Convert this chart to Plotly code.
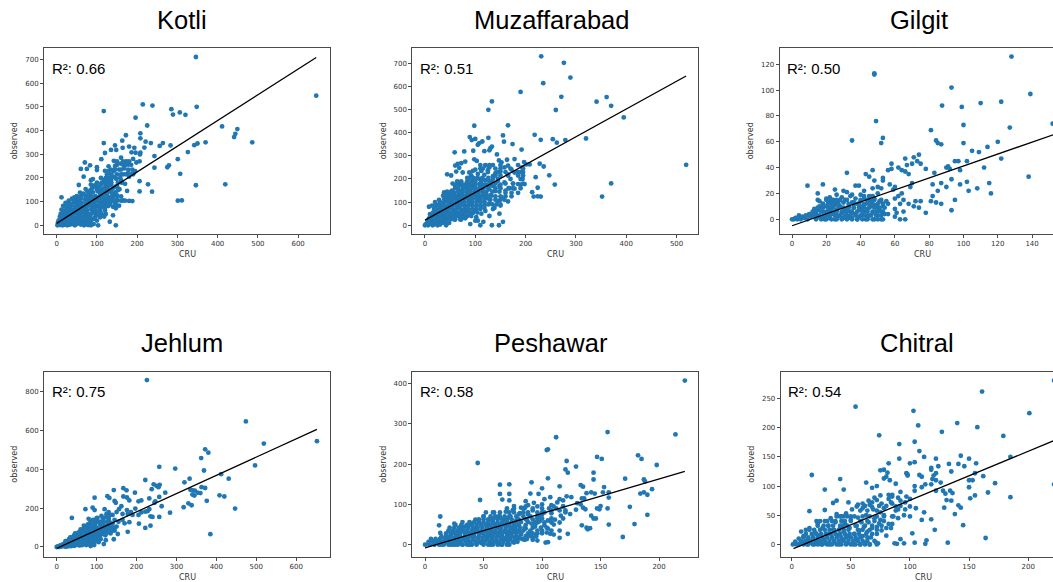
import plotly.graph_objects as go

W, H = 1053, 582
BLUE = "#1f77b4"

TITLES = ["Kotli", "Muzaffarabad", "Gilgit", "Jehlum", "Peshawar", "Chitral"]
R2 = ["0.66", "0.51", "0.50", "0.75", "0.58", "0.54"]

KOTLI = [(346,710),(645,547),(348,500),(117,482),(214,510),(238,505),(285,490),(289,467),(306,476),(320,466),(196,454),(225,421),(411,417),(449,406),(444,386),(441,372),(486,350),(370,350),(350,345),(342,338),(208,388),(172,380),(208,367),(163,357),(117,347),(221,353),(234,347),(264,347),(256,335),(283,337),(145,337),(135,318),(148,318),(180,332),(193,327),(164,327),(218,328),(120,305),(186,308),(196,306),(208,307),(207,299),(243,292),(326,309),(301,279),(111,279),(70,265),(142,272),(160,285),(190,280),(198,265),(206,270),(173,270),(178,256),(83,253),(100,245),(60,238),(75,238),(100,233),(129,249),(120,230),(130,230),(275,245),(279,253),(243,243),(307,217),(206,186),(227,173),(237,142),(206,143),(346,169),(419,173),(301,104),(311,105),(180,103),(188,102),(170,175),(175,145),(67,205),(55,170),(90,195),(85,190),(12,118),(147,0),(103,0),(132,15),(140,42),(147,72),(155,83),(165,105),(150,110),(140,120),(130,110),(195,228),(188,218),(178,222),(180,205),(160,260),(150,262),(145,250),(168,240),(155,235),(142,228),(165,215),(150,215),(140,205),(128,198),(118,192),(125,182),(135,190),(148,196),(112,178),(98,170),(122,165),(135,172),(150,165),(160,190),
(2,0),(6,2),(10,1),(15,0),(20,3),(26,0),(32,2),(45,0),(60,3),(68,0),(78,1),(85,0),(3,10),(8,12),(14,8),(20,11),(28,9),(36,13),(44,8),(52,12),(62,9),(72,14),(84,11),(5,21),(10,19),(16,23),(24,18),(32,22),(40,20),(48,24),(56,18),(66,22),(76,19),(88,24),(100,20),(8,36),(14,33),(22,37),(30,34),(38,36),(46,32),(54,38),(64,34),(74,37),(84,33),(96,36),(108,34),(118,37),(10,48),(18,52),(26,49),(34,53),(42,47),(50,51),(58,48),(68,53),(78,49),(88,52),(98,47),(110,51),(122,48),(12,66),(20,63),(30,67),(38,64),(46,68),(56,62),(66,66),(76,63),(86,68),(96,64),(108,67),(120,63),(16,82),(26,78),(36,83),(46,79),(56,82),(66,78),(78,83),(88,79),(100,82),(112,78),(128,81),(140,78),(22,95),(32,92),(42,97),(52,93),(62,96),(72,92),(84,97),(94,93),(106,96),(118,92),(134,97),(146,93),(38,112),(50,108),(60,113),(70,109),(82,112),(94,108),(106,113),(120,109),(136,112),(150,126),(50,123),(62,127),(72,124),(84,128),(96,123),(110,127),(126,124),(142,128),(160,122),(58,138),(76,142),(90,139),(102,143),(118,138),(130,142),(146,139),(72,153),(88,157),(100,152),(116,156),(128,153),(140,157),(156,152),(85,172),(95,168),(110,173),(122,168),(134,171),
]
KOTLI_ROWS = [(5,[10,24,38,50,66,80,92]),(28,[12,20,30,44,58,70,82,94]),(44,[14,24,38,54,70,84,104,116]),(58,[18,28,44,60,72,92,102]),(74,[24,34,50,62,74,94,106,120]),(88,[30,48,60,80,92,108,124,132,145]),(104,[30,44,56,78,90,100,114,125,135,142,150,160,170]),(118,[44,56,78,90,102,116,134]),(133,[66,80,108,122,138]),(148,[84,110,124,136,152]),(163,[92,106,128,146]),(180,[100,112,122,136,152,162]),(200,[110,122,134,146,158]),(215,[125,135,160,172,190]),(235,[135,145,160,178,188]),(255,[150,165,172,185]),(270,[150,165,180])]

MUZAFFARABAD = [(231,730),(276,702),(289,638),(235,614),(190,576),(271,555),(133,535),(126,499),(260,498),(341,534),(361,554),(370,516),(395,466),(519,261),(98,430),(165,432),(89,381),(93,368),(100,373),(126,378),(155,388),(218,391),(230,369),(254,372),(262,357),(279,368),(320,375),(114,362),(108,355),(105,348),(157,361),(174,351),(133,340),(130,333),(128,324),(192,327),(118,320),(59,315),(78,319),(96,322),(143,306),(98,285),(103,278),(147,280),(152,272),(163,283),(178,286),(197,273),(201,263),(208,263),(228,266),(236,254),(247,216),(220,208),(258,176),(370,181),(352,124),(224,162),(213,143),(216,124),(224,125),(230,124),(194,200),(198,178),(190,175),(185,178),(175,180),(168,160),(178,158),(160,150),(152,120),(165,103),(145,105),(150,85),(155,15),(147,0),(133,0),(148,50),(138,75),(128,95),(116,15),(110,0),(105,20),(90,5),(70,25),(60,25),(42,0),(80,30),(90,50),(112,50),(118,75),
(65,265),(60,258),(72,268),(80,275),(68,248),(44,220),(52,215),(62,232),(75,228),(88,228),(95,235),(100,240),(112,235),(120,258),(128,250),(135,260),(110,260),(115,245),(125,238),(140,225),(150,232),(158,250),(165,258),(172,240),(190,230),(193,250),(178,228),(165,220),(150,215),(135,212),(118,218),(105,222),(92,215),(84,205),(72,190),(66,182),(55,180),(60,170),(70,172),(82,178),(95,190),(108,200),(120,195),(132,190),(145,192),(158,185),(148,170),(135,170),(122,175),(108,178),(94,172),(80,165),(66,158),(54,150),(38,142),(46,135),(58,140),(72,148),(86,152),(100,158),(114,160),(128,155),(140,148),(115,140),(100,140),(86,136),(72,132),(60,125),(48,120),(36,128),(28,110),(20,100),(30,95),(42,105),(54,108),(66,112),(78,118),(92,122),(106,125),(120,120),(132,128),(118,100),(104,105),(90,102),(76,98),(64,92),(50,90),(36,85),(24,88),(14,85),(8,80),(18,70),(30,72),(42,75),(54,76),(66,80),(80,84),(94,86),(110,85),(100,68),(86,66),(72,62),(58,60),(44,58),(30,55),(18,52),(10,48),(22,38),(34,42),(48,44),(62,46),(76,48),(8,30),(16,25),(28,22),(40,30),(52,32),(2,5),(6,0),(12,8),(18,4),(24,10),(30,3),(36,12),(5,18),(12,20),(0,0),(15,0),(25,0),(120,62),(128,40),(135,70),(102,35),(100,20),(95,55),(84,40),(75,35),(65,40),
]
MUZAFFARABAD_ROWS = [(10,[8,16,24,32,40,48]),(25,[10,18,26,34,42,50,58,72]),(40,[14,22,30,38,46,54,62,70,78,92]),(55,[16,24,32,40,48,56,64,72,80,88,96,104]),(70,[22,30,38,46,54,62,70,78,86,94,102,110]),(85,[22,30,38,46,54,62,70,78,86,94,102,110,118]),(90,[126,134,142,150]),(100,[30,38,46,54,62,70,78,86,94,102,110,118]),(110,[130,140,150,158]),(115,[38,46,54,62,70,78,86,94,102,110,118,126]),(125,[140,150,160,172]),(130,[42,50,58,66,74,82,90,98,106,114,122,130]),(140,[160,172,185]),(145,[44,52,66,74,82,90,98,106,114,122,134,148]),(160,[60,76,84,92,100,108,116,126,140,150,166,175,190]),(175,[62,76,88,100,112,118,130,150]),(180,[140,160,175,195]),(190,[64,84,92,100,112,128]),(200,[135,145,170,190]),(205,[88,96,104,114,126]),(215,[140,165,185,195]),(230,[125,145,160,185,195]),(245,[110,140,150,170,195]),(260,[120,128,150,185])]

GILGIT = [(128,126),(48,113),(48,112),(93,102),(139,97),(49,76),(87.5,88),(99,87),(110,90),(122,91),(100,73),(81,69),(127,71),(152,74),(35,61),(53,63),(52,59),(84,61),(85,59),(87,58),(100,59),(120,60),(114,56),(105,53),(109,52),(122,47),(74,50),(66,47),(71,48),(73,45),(75,43),(70,43),(67,42),(58,43),(62,40),(78,39),(90,40),(91,41),(92,39),(95,45),(97,45),(102,45),(112,40),(98,38),(56,38),(58,39),(64,38),(66,37),(68,35),(47,38),(43,35),(32,36),(45,33),(48,30),(53,32),(53,30),(83,36),(70,28),(69,25),(82,27),(93,31),(87,28),(98,27),(102,29),(90,25),(85,22),(103,22),(108,24),(115,28),(116,20),(82,18),(95,15),(75,14),(72,14),(81,14),(84,13),(87,12),(78,5),(93,7),(138,33),(9,26),(18,27),(15,20),(25,23),(26,19),(30,22),(32,21),(37,26),(39,26),(35,19),(42,22),(47,24),(50,25),(52,24),(57,27),(60,25),(59,23),(64,20),(62,18),(60,16),(65,15),(63,12),(68,12),(71,10),(74,9),(65,6),(60,8),(56,12),(55,14),(53,10),(52,6),(50,9),(56,4),(60,2),(63,0),(66,0),(61,5),
(0,0),(1,0),(2,1),(3,0),(4,3),(4,1),(5,0),(6,2),(7,1),(8,3),(9,0),(10,4),(11,2),(12,6),(13,8),(14,4),(15,7),(15,15),(16,14),(16,2),(17,9),(18,6),(18,12),(19,0),(20,3),(20,10),(21,14),(21,6),(22,17),(22,1),(23,12),(23,8),(24,4),(24,15),(25,11),(25,0),(26,7),(27,14),(27,2),(28,10),(29,5),(29,17),(30,13),(30,1),(31,8),(32,15),(32,3),(33,10),(34,6),(34,18),(35,13),(35,1),(36,9),(37,16),(37,4),(38,12),(38,0),(39,7),(40,19),(40,14),(41,3),(41,10),(42,16),(42,6),(43,0),(43,12),(44,8),(45,18),(45,3),(46,14),(46,10),(47,5),(48,0),(48,16),(49,11),(50,20),(50,3),(51,14),(51,7),(52,0),(53,12),(54,4),
(20,16),(24,5),(26,13),(28,15),(33,1),(36,13),(39,2),(44,1),(44,15),(47,12),(49,6),(22,9),(30,6),(28,3),(35,5),(40,8),(16,10),(12,3),(14,1),(18,2),(26,3),
]
GILGIT_ROWS = [(0,[14,17,20,23,26,29,32,35,38,41,44,47,50,53]),(3,[10,13,16,19,22,25,28,31,34,37,40,43,46,49,52]),(6,[14,17,20,23,26,29,32,35,38,41,44,47,50,53]),(9,[15,18,21,24,27,30,33,36,39,42,45,48,51,54]),(12,[18,21,24,27,33,36,39,42,45,50,53]),(15,[20,23,26,31,40,44,48,52]),(18,[42,47])]

JEHLUM = [(226,860),(474,647),(652,545),(519,533),(497,420),(372,503),(380,486),(362,458),(257,413),(297,404),(369,394),(412,375),(431,352),(333,352),(320,333),(222,345),(243,323),(250,315),(258,320),(255,308),(238,298),(272,280),(335,295),(340,292),(346,290),(353,280),(360,278),(363,308),(372,304),(345,265),(340,270),(408,266),(420,260),(376,238),(330,225),(338,215),(318,205),(447,198),(385,66),(284,177),(263,210),(257,155),(240,155),(235,158),(235,110),(222,98),(206,120),(178,78),(143,40),(153,67),(167,303),(175,292),(143,293),(95,254),(127,262),(132,253),(196,280),(167,260),(176,255),(182,240),(145,237),(148,228),(205,235),(212,240),(232,250),(247,235),(257,258),(245,228),(228,185),(222,182),(232,195),(212,178),(197,198),(205,165),(190,165),(176,190),(162,210),(156,195),(150,180),(165,170),(178,170),(186,180),(72,195),(90,203),(95,190),(38,150),(80,145),(68,110),(120,195),(130,180),(135,165),(125,170),(112,160),(118,150),(130,145),(145,140),(155,130),(165,140),(170,122),(182,128),(140,120),(130,120),(120,110),(105,130),(95,125),(85,115),(75,100),(88,95),(100,100),(110,90),(125,85),(140,85),(150,105),(135,70),(122,60),(118,15),(110,40),(105,60),(95,30),(85,5),(90,18),(72,15),(58,8),
(0,0),(3,3),(6,0),(9,8),(12,2),(15,14),(18,5),(21,20),(24,8),(27,28),(30,12),(33,36),(36,4),(39,18),(42,44),(45,6),(48,26),(51,55),(54,12),(57,36),(60,60),(63,20),(66,44),(69,72),(72,28),(75,52),(78,80),(81,36),(84,60),(87,12),(90,42),(93,70),(96,90),(99,50),(102,76),(105,25),(108,56),(111,84),(114,105),(117,66),(120,90),(123,35),(126,74),(129,100),(132,130),(135,105),(138,90),(70,58),(64,48),(56,48),(50,40),(44,32),(38,30),(32,22),(26,18),(20,12),(15,6),(25,30),(31,40),(37,50),(43,58),(49,68),(55,75),(61,85),(67,92),(73,105),(79,118),(85,130),(91,140),(102,150),(108,120),(96,112),(82,98),(76,68),(68,36),(60,30),(52,22),(46,15),(40,8),(34,14),(28,3),(22,1),(75,15),(80,28),(88,32),(95,60),(100,35),(112,70),(124,108),(118,130),(128,158),
]
JEHLUM_ROWS = [(10,[14,24,34,44,54,64,74,84,94]),(30,[22,34,44,54,64,74,86,100]),(50,[34,42,52,62,72,84,94,108]),(70,[46,56,66,78,88,100,116,120]),(85,[125,135,145]),(90,[60,70,84,104,118,130]),(100,[135,145]),(110,[76,88,110,126]),(130,[100,112,128]),(148,[100,116,130]),(165,[125,140])]

PESHAWAR = [(222,408),(214,274),(156,280),(112,267),(104,235),(105,237),(45,203),(182,222),(185,213),(147,218),(151,213),(198,198),(121,208),(120,187),(122,179),(129,194),(144,179),(144,162),(105,165),(91,155),(171,164),(187,162),(188,157),(194,138),(187,130),(184,127),(190,124),(157,130),(157,117),(153,143),(152,130),(145,127),(142,130),(138,128),(133,148),(135,144),(136,115),(134,115),(129,87),(125,118),(121,120),(118,110),(115,113),(113,105),(115,145),(100,140),(97,126),(90,127),(72,150),(64,149),(64,126),(72,126),(66,112),(72,110),(47,111),(86,108),(76,96),(107,118),(102,113),(93,104),(88,98),(82,92),(100,100),(108,98),(112,90),(118,95),(120,80),(124,76),(116,72),(130,103),(133,100),(135,92),(137,88),(142,72),(144,65),(146,65),(147,90),(149,88),(150,96),(156,90),(175,94),(190,74),(179,51),(169,19),(157,50),(134,48),(138,42),(139,38),(141,41),(110,50),(122,27),(115,17),(105,40),(107,27),(104,30),(100,28),(103,5),(105,6),(92,12),(96,10),(88,25),(80,15),(13,70),(12,48),(13,29),(25,52),
(0,0),(3,2),(6,10),(8,1),(10,6),(13,14),(15,2),(18,8),(20,18),(22,0),(24,30),(25,12),(27,5),(28,22),(30,42),(32,0),(33,15),(35,30),(37,50),(38,6),(40,22),(41,38),(43,62),(44,2),(45,14),(47,28),(48,50),(50,70),(50,8),(52,20),(53,40),(55,62),(56,0),(57,14),(58,30),(59,80),(60,50),(61,8),(62,22),(63,70),(64,40),(65,0),(66,15),(67,60),(68,32),(69,82),(70,50),(71,10),(72,24),(73,70),(74,42),(75,86),(76,5),(77,18),(78,60),(79,34),(80,48),(81,78),(82,25),(84,90),(85,12),(86,40),(87,62),(88,76),(90,30),(91,52),(92,85),(94,45),(95,20),(97,70),(98,58),(100,80),(102,48),(105,60),(108,78),(111,62),(28,35),(34,45),(42,28),(46,56),(54,48),(60,30),(68,12),(74,30),(16,5),(30,5),(36,18),(48,4),(55,24),(65,28),(14,0),(20,8),(26,0),(38,0),(58,2),(72,0),(40,52),(44,42),(22,25),(18,20),(12,8),
]
PESHAWAR_ROWS = [(0,[4,8,12,16,20,24,28,32,36,40,44,50,54,58,62,66,70]),(7,[3,7,11,15,19,23,27,31,35,39,43,47,51,55,59,63,67,71,75,79]),(14,[5,9,13,17,21,25,29,33,37,41,45,49,53,57,61,65,69,73,77,83,87]),(18,[70,80,92]),(21,[14,18,22,26,30,34,38,42,46,50,54,58,62,66,70,74,78,86,90]),(25,[95,110]),(28,[18,22,26,30,34,38,42,46,50,54,58,62,66,70,74,78,82,88,92,96]),(35,[20,24,28,32,36,40,44,48,52,56,60,64,68,72,76,80,84,90,96,100,108,115]),(42,[21,25,29,33,37,41,45,49,53,57,61,65,69,73,77,81,85,92,99,104]),(49,[26,31,36,40,44,48,52,56,60,64,68,72,76,80,86,94]),(55,[96,102,108,115]),(56,[32,38,42,46,50,54,58,62,66,70,74,78,82,88,94]),(63,[46,50,54,58,62,66,70,74,80,86,92]),(65,[96,100,108,118]),(70,[50,56,60,64,68,72,78,84,90,96]),(75,[80,88,100]),(80,[52,58,64,72,76,84,88,96,102]),(85,[108,115,120]),(90,[70,76,85,92,100,106]),(95,[86,96,110,118])]

CHITRAL = [(54,236),(103,229),(161,262),(222,281),(201,225),(140,208),(107,204),(157,201),(127,193),(74,187),(179,186),(104,176),(91,172),(108,160),(112,150),(91,147),(104,141),(122,147),(185,150),(143,152),(150,147),(133,138),(141,138),(146,134),(124,134),(156,139),(82,139),(75,127),(78,128),(81,123),(97,122),(98,120),(98,118),(100,139),(108,119),(110,116),(118,131),(118,128),(122,122),(120,118),(119,112),(135,125),(155,122),(162,117),(172,105),(150,110),(153,110),(150,98),(222,103),(17,119),(41,112),(28,94),(44,94),(63,106),(68,97),(72,100),(78,113),(80,116),(83,110),(88,104),(85,85),(92,90),(97,82),(104,92),(104,100),(110,98),(113,103),(118,103),(122,110),(126,106),(122,92),(128,92),(130,87),(134,92),(136,88),(131,76),(135,75),(129,63),(138,52),(141,67),(143,63),(145,33),(155,84),(151,79),(166,89),(185,81),(164,11),(132,3),(114,7),(113,1),(104,3),(102,19),(95,2),(92,9),(89,1),(87,2),(15,57),(28,59),(35,71),(38,75),(48,72),(55,65),(60,70),(65,75),(70,80),(75,84),(85,70),(90,60),(95,50),(100,65),(105,62),(100,48),(112,55),(110,42),(118,43),(121,25),(90,45),(85,35),(80,28),(75,42),(72,30),
(1,0),(3,5),(4,0),(6,10),(7,2),(8,22),(9,4),(10,14),(12,25),(13,0),(14,8),(15,28),(16,3),(18,12),(19,0),(20,20),(21,5),(22,36),(24,15),(25,0),(26,28),(27,8),(28,40),(29,2),(30,18),(31,32),(32,0),(33,45),(34,12),(35,25),(36,4),(37,38),(38,52),(39,16),(40,0),(41,30),(42,48),(43,8),(44,22),(45,36),(46,53),(47,2),(48,14),(49,28),(50,42),(51,60),(52,0),(53,18),(54,32),(55,8),(56,46),(57,24),(58,0),(59,38),(60,14),(61,30),(62,2),(63,50),(64,22),(65,38),(66,0),(67,12),(68,28),(69,60),(70,45),(71,4),(72,18),(73,2),(74,36),(75,55),(76,24),(78,50),(80,15),(82,35),(84,28),(86,48),(88,65),(92,75),(96,60),(58,58),(62,66),(66,68),(74,66),(78,62),(82,78),
(56,68),(60,62),(64,58),(68,72),(72,76),(76,70),(68,64),(72,58),(80,66),(84,72),(88,58),(92,66),(96,72),(100,78),(82,85),(85,82),(90,80),
]
CHITRAL_ROWS = [(0,[6,10,14,18,22,26,30,34,38,42,46,50,54,58,62,66,72]),(6,[8,12,16,20,24,28,32,36,40,44,48,52,56,60,64,70]),(12,[10,14,18,22,26,30,34,38,42,46,50,54,58,64]),(18,[12,17,21,25,29,33,37,41,45,49,53,57,63,68]),(25,[15,19,24,28,32,36,40,44,48,56,60,66,72]),(32,[22,27,31,35,41,43,47,55,62,68,76]),(40,[21,24,30,34,37,42,45,50,58,64,70,78]),(48,[38,41,44,47,50,53,60,66,72,78,85])]

LINE_X = [(0,645),(0,519),(0,160),(0,652),(0,222),(1.5,222)]
LINE_Y = [(8,708),(22,645),(-5,69),(-7,606),(-8,182),(-7,178)]
SERIES = [KOTLI, MUZAFFARABAD, GILGIT, JEHLUM, PESHAWAR, CHITRAL]
ROWS = [KOTLI_ROWS, MUZAFFARABAD_ROWS, GILGIT_ROWS, JEHLUM_ROWS, PESHAWAR_ROWS, CHITRAL_ROWS]

# pixel box of each panel: left, right, top, bottom
BOXES = [(44,329.5,48,233.5),(412.3,697.7,48,233.5),(779.7,1053,48,233.5),
         (44,329.5,371.7,556.7),(412.3,697.7,371.7,556.7),(780.7,1053,371.7,556.7)]
XR = [(-31.5,678),(-25.2,542),(-7.2,152.2),(-31.8,683.5),(-10.9,233),(-9.3,221)]
YR = [(-34.6,748),(-35.6,766),(-11,132.6),(-50,903),(-30,430),(-21,296)]
XT = [[0,100,200,300,400,500,600],[0,100,200,300,400,500],[0,20,40,60,80,100,120,140],
      [0,100,200,300,400,500,600],[0,50,100,150,200],[0,50,100,150,200]]
YT = [[0,100,200,300,400,500,600,700],[0,100,200,300,400,500,600,700],[0,20,40,60,80,100,120],
      [0,200,400,600,800],[0,100,200,300,400],[0,50,100,150,200,250]]
TITLE_CX = [181.7,551,919,181.7,551,917]
TITLE_Y = [20,20,20,343,343,343]
CRU_CX = [187,555,922,187,555,923]

fig = go.Figure()
layout = dict(width=W, height=H, margin=dict(l=0,r=0,t=0,b=0), paper_bgcolor="white",
              plot_bgcolor="white", showlegend=False,
              font=dict(family="DejaVu Sans", size=8, color="#333333"))
annots = []
SPINE = "#4a4a4a"
for i, pts in enumerate(SERIES):
    n = i + 1
    xa = "x" if n == 1 else f"x{n}"
    ya = "y" if n == 1 else f"y{n}"
    xs = [p[0] for p in pts] + [x for y, row in ROWS[i] for x in row]
    ys = [p[1] for p in pts] + [y for y, row in ROWS[i] for x in row]
    fig.add_trace(go.Scatter(x=xs, y=ys, mode="markers",
                             marker=dict(color=BLUE, size=4.8), xaxis=xa, yaxis=ya))
    fig.add_trace(go.Scatter(x=LINE_X[i], y=LINE_Y[i], mode="lines",
                             line=dict(color="black", width=1.3), xaxis=xa, yaxis=ya))
    l, r, t, b = BOXES[i]
    clipped = r >= W
    suffix = "" if n == 1 else str(n)
    layout["xaxis"+suffix] = dict(domain=[l/W, r/W], range=XR[i], anchor=ya, tickvals=XT[i],
        showgrid=False, zeroline=False, showline=True, linecolor=SPINE, linewidth=1, mirror=True,
        ticks="outside", ticklen=3, tickwidth=0.8, tickcolor=SPINE, tickfont=dict(size=7))
    layout["yaxis"+suffix] = dict(domain=[1-b/H, 1-t/H], range=YR[i], anchor=xa, tickvals=YT[i],
        showgrid=False, zeroline=False, showline=True, linecolor=SPINE, linewidth=1,
        mirror=(not clipped), ticks="outside", ticklen=3, tickwidth=0.8, tickcolor=SPINE,
        tickfont=dict(size=7), title=dict(text="observed", font=dict(size=8), standoff=5.5))
    annots.append(dict(text="CRU", xref="paper", yref="paper", x=CRU_CX[i]/W, y=1-(b+20.5)/H,
                       xanchor="center", yanchor="middle", showarrow=False,
                       font=dict(family="DejaVu Sans", size=8, color="#333333")))
    annots.append(dict(text=TITLES[i], xref="paper", yref="paper", x=TITLE_CX[i]/W, y=1-TITLE_Y[i]/H,
                       xanchor="center", yanchor="middle", showarrow=False,
                       font=dict(family="Liberation Sans", size=25.5, color="black")))
    annots.append(dict(text=f"R²: {R2[i]}", xref="paper", yref="paper", x=(l+5.5)/W, y=1-(t+20)/H,
                       xanchor="left", yanchor="middle", showarrow=False,
                       font=dict(family="Liberation Sans", size=15, color="black")))
fig.update_layout(annotations=annots, **layout)
fig.write_html("out.html", config={"displayModeBar": False},
               post_script="document.body.style.margin='0';document.body.style.overflow='hidden';")
